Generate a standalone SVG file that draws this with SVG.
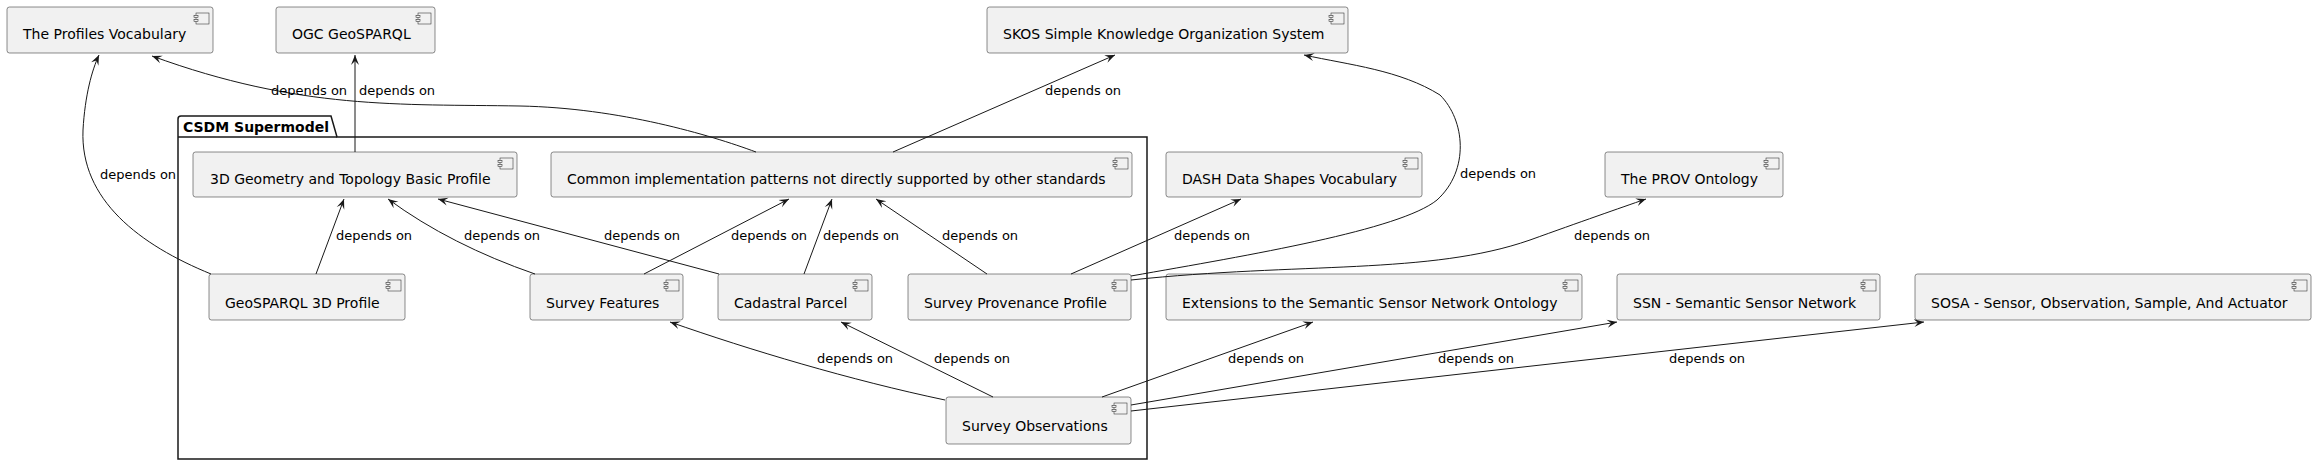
<svg xmlns="http://www.w3.org/2000/svg" width="2316" height="466" viewBox="0 0 2316 466">
<style>
.b{fill:#F1F1F1;stroke:#181818;stroke-width:0.5}
.t{font-family:"DejaVu Sans",sans-serif;font-size:14px;fill:#000}
.l{font-family:"DejaVu Sans",sans-serif;font-size:13px;fill:#000}
.e{fill:none;stroke:#181818;stroke-width:1}
.i{fill:#F1F1F1;stroke:#181818;stroke-width:0.5}
</style>
<defs>
<marker id="a" viewBox="0 0 10 10" refX="10" refY="5" markerWidth="10" markerHeight="10" markerUnits="userSpaceOnUse" orient="auto">
<path d="M0,1 L10,5 L0,9 L4,5 Z" fill="#181818"/>
</marker>
<g id="ic"><rect x="-17" y="6" width="13" height="11" class="i"/><rect x="-19" y="8.5" width="4" height="2" class="i"/><rect x="-19" y="12.5" width="4" height="2" class="i"/></g>
</defs>
<rect width="2316" height="466" fill="#fff"/>
<g id="pkg">
<path d="M178,459 L178,119 Q178,116 181,116 L331,116 L337,137 L1147,137 L1147,459 Z" fill="none" stroke="#181818" stroke-width="1.5"/>
<line x1="178" y1="137" x2="337" y2="137" stroke="#181818" stroke-width="1.5"/>
<text x="183" y="132" font-family="DejaVu Sans,sans-serif" font-size="14" font-weight="bold">CSDM Supermodel</text>
</g>
<g id="profiles"><rect x="7" y="7" width="206" height="46" rx="2.5" class="b"/><use href="#ic" x="213" y="7"/><text x="23" y="39" class="t">The Profiles Vocabulary</text></g>
<g id="ogc"><rect x="276" y="7" width="159" height="46" rx="2.5" class="b"/><use href="#ic" x="435" y="7"/><text x="292" y="39" class="t">OGC GeoSPARQL</text></g>
<g id="skos"><rect x="987" y="7" width="361" height="46" rx="2.5" class="b"/><use href="#ic" x="1348" y="7"/><text x="1003" y="39" class="t">SKOS Simple Knowledge Organization System</text></g>
<g id="geom"><rect x="193" y="152" width="324" height="45" rx="2.5" class="b"/><use href="#ic" x="517" y="152"/><text x="210" y="184" class="t">3D Geometry and Topology Basic Profile</text></g>
<g id="common"><rect x="551" y="152" width="581" height="45" rx="2.5" class="b"/><use href="#ic" x="1132" y="152"/><text x="567" y="184" class="t">Common implementation patterns not directly supported by other standards</text></g>
<g id="dash"><rect x="1166" y="152" width="256" height="45" rx="2.5" class="b"/><use href="#ic" x="1422" y="152"/><text x="1182" y="184" class="t">DASH Data Shapes Vocabulary</text></g>
<g id="prov"><rect x="1605" y="152" width="178" height="45" rx="2.5" class="b"/><use href="#ic" x="1783" y="152"/><text x="1621" y="184" class="t">The PROV Ontology</text></g>
<g id="geo3d"><rect x="209" y="274" width="196" height="46" rx="2.5" class="b"/><use href="#ic" x="405" y="274"/><text x="225" y="308" class="t">GeoSPARQL 3D Profile</text></g>
<g id="features"><rect x="530" y="274" width="153" height="46" rx="2.5" class="b"/><use href="#ic" x="683" y="274"/><text x="546" y="308" class="t">Survey Features</text></g>
<g id="cadastral"><rect x="718" y="274" width="154" height="46" rx="2.5" class="b"/><use href="#ic" x="872" y="274"/><text x="734" y="308" class="t">Cadastral Parcel</text></g>
<g id="provprofile"><rect x="908" y="274" width="223" height="46" rx="2.5" class="b"/><use href="#ic" x="1131" y="274"/><text x="924" y="308" class="t">Survey Provenance Profile</text></g>
<g id="ext"><rect x="1166" y="274" width="416" height="46" rx="2.5" class="b"/><use href="#ic" x="1582" y="274"/><text x="1182" y="308" class="t">Extensions to the Semantic Sensor Network Ontology</text></g>
<g id="ssn"><rect x="1617" y="274" width="263" height="46" rx="2.5" class="b"/><use href="#ic" x="1880" y="274"/><text x="1633" y="308" class="t">SSN - Semantic Sensor Network</text></g>
<g id="sosa"><rect x="1915" y="274" width="396" height="46" rx="2.5" class="b"/><use href="#ic" x="2311" y="274"/><text x="1931" y="308" class="t">SOSA - Sensor, Observation, Sample, And Actuator</text></g>
<g id="obs"><rect x="946" y="397" width="185" height="47" rx="2.5" class="b"/><use href="#ic" x="1131" y="397"/><text x="962" y="431" class="t">Survey Observations</text></g>
<g id="connectors" marker-end="url(#a)">
<path class="e" marker-end="url(#a)" d="M211,274 C140,245 80,200 83,130 C85,95 92,70 99,55"/>
<path class="e" marker-end="url(#a)" d="M355,152 L355,55"/>
<path class="e" marker-end="url(#a)" d="M756,152 C710,135 620,108 520,106 C400,104 300,110 152,56"/>
<path class="e" marker-end="url(#a)" d="M893,152 L1115,55"/>
<path class="e" marker-end="url(#a)" d="M1131,276 C1250,255 1400,230 1437,200 C1470,170 1465,120 1440,95 C1400,70 1350,65 1304,55"/>
<path class="e" marker-end="url(#a)" d="M316,274 L344,199"/>
<path class="e" marker-end="url(#a)" d="M535,274 C480,255 430,230 388,199"/>
<path class="e" marker-end="url(#a)" d="M719,274 L438,199"/>
<path class="e" marker-end="url(#a)" d="M644,274 L789,199"/>
<path class="e" marker-end="url(#a)" d="M804,274 L832,199"/>
<path class="e" marker-end="url(#a)" d="M987,274 L876,199"/>
<path class="e" marker-end="url(#a)" d="M1071,274 L1241,199"/>
<path class="e" marker-end="url(#a)" d="M1131,280 C1300,262 1430,275 1530,240 C1580,222 1620,208 1646,199"/>
<path class="e" marker-end="url(#a)" d="M945,400 C850,380 750,350 670,322"/>
<path class="e" marker-end="url(#a)" d="M993,397 L841,322"/>
<path class="e" marker-end="url(#a)" d="M1102,397 L1313,322"/>
<path class="e" marker-end="url(#a)" d="M1131,405 L1617,322"/>
<path class="e" marker-end="url(#a)" d="M1131,411 L1924,322"/>
</g>
<g id="labels">
<text x="100" y="179" class="l">depends on</text>
<text x="359" y="95" class="l">depends on</text>
<text x="271" y="95" class="l">depends on</text>
<text x="1045" y="95" class="l">depends on</text>
<text x="1460" y="178" class="l">depends on</text>
<text x="336" y="240" class="l">depends on</text>
<text x="464" y="240" class="l">depends on</text>
<text x="604" y="240" class="l">depends on</text>
<text x="731" y="240" class="l">depends on</text>
<text x="823" y="240" class="l">depends on</text>
<text x="942" y="240" class="l">depends on</text>
<text x="1174" y="240" class="l">depends on</text>
<text x="1574" y="240" class="l">depends on</text>
<text x="817" y="363" class="l">depends on</text>
<text x="934" y="363" class="l">depends on</text>
<text x="1228" y="363" class="l">depends on</text>
<text x="1438" y="363" class="l">depends on</text>
<text x="1669" y="363" class="l">depends on</text>
</g>
</svg>
